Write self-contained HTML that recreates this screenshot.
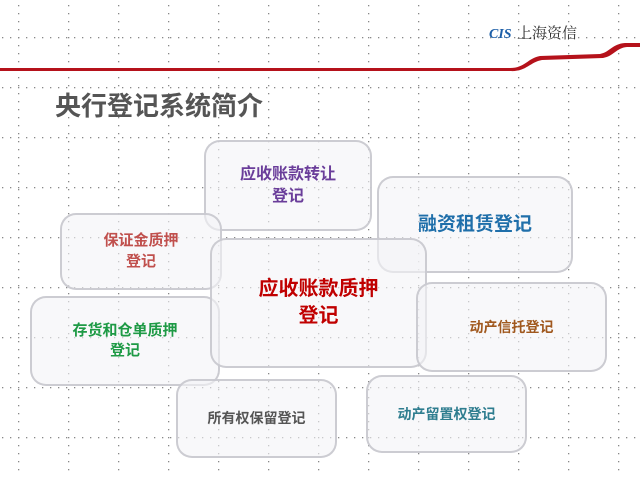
<!DOCTYPE html>
<html><head><meta charset="utf-8"><style>
body{margin:0;width:640px;height:477px;overflow:hidden;background:#fff;position:relative;font-family:"Liberation Sans","Noto Sans CJK SC",sans-serif}
.grid{position:absolute;left:0;top:0}
.b{position:absolute;box-sizing:border-box;border:2px solid rgba(200,200,205,.9);border-radius:16px;background:rgba(244,244,247,.6);display:flex;align-items:center;justify-content:center;text-align:center;font-weight:bold;line-height:1.35}
</style></head><body>
<svg class="grid" width="640" height="477">
<defs>
<pattern id="h" x="2" y="37" width="8" height="50" patternUnits="userSpaceOnUse"><rect x="0" y="0" width="1.3" height="1.3" fill="#888"/></pattern>
<pattern id="v" x="18" y="5" width="50" height="8" patternUnits="userSpaceOnUse"><rect x="0" y="0" width="1.3" height="1.3" fill="#888"/></pattern>
</defs>
<rect width="640" height="477" fill="url(#h)"/>
<rect width="640" height="477" fill="url(#v)"/>
<path d="M0 68 L510 68 C525 68 528 58 540 56 L600 54 C610 52 612 44 625 43 L640 43 L640 47 L627 47 C616 48 614 56 603 58 L542 60 C530 62 526 72 510 71 L0 71 Z" fill="#b5121b"/>
<text x="489" y="38" font-family="Liberation Serif" font-style="italic" font-weight="bold" font-size="14" fill="#1d5fa8">CIS</text>
<text x="517" y="38" font-family="Noto Serif CJK SC,serif" font-size="15" fill="#333">上海资信</text>
</svg>
<div style="position:absolute;left:55px;top:86px;font-size:26px;font-weight:bold;color:#555">央行登记系统简介</div>
<div class="b" style="left:204px;top:140px;width:168px;height:91px;color:#6a3d9a;font-size:16px">应收账款转让<br>登记</div>
<div class="b" style="left:377px;top:176px;width:196px;height:97px;color:#1f6faa;font-size:19px">融资租赁登记</div>
<div class="b" style="left:60px;top:213px;width:162px;height:77px;color:#c0504d;font-size:15px">保证金质押<br>登记</div>
<div class="b" style="left:30px;top:296px;width:190px;height:90px;color:#1e9a45;font-size:15px">存货和仓单质押<br>登记</div>
<div class="b" style="left:210px;top:238px;width:217px;height:130px;color:#c00000;font-size:20px">应收账款质押<br>登记</div>
<div class="b" style="left:416px;top:282px;width:191px;height:90px;color:#a0581e;font-size:14px">动产信托登记</div>
<div class="b" style="left:176px;top:379px;width:161px;height:79px;color:#555;font-size:14px">所有权保留登记</div>
<div class="b" style="left:366px;top:375px;width:161px;height:78px;color:#2e7d8f;font-size:14px">动产留置权登记</div>
</body></html>
